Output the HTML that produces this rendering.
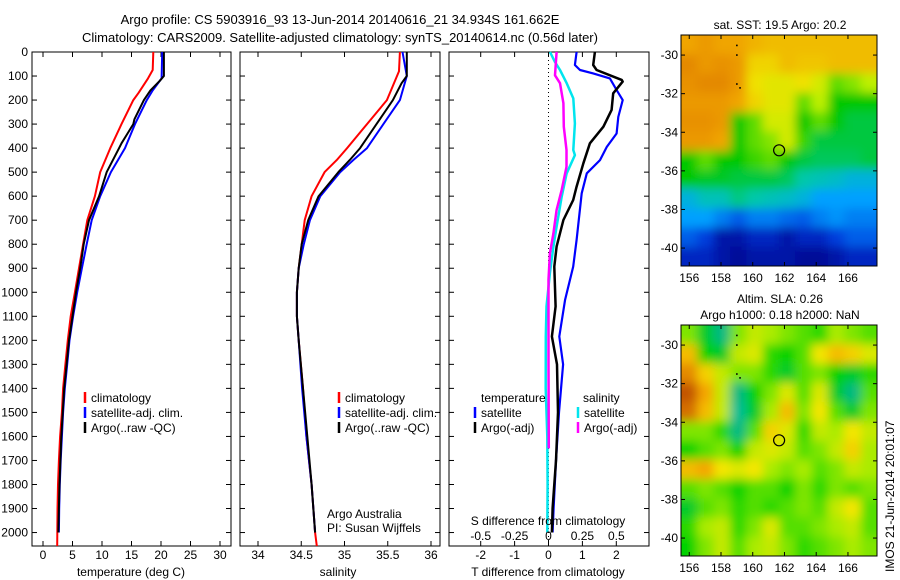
<!DOCTYPE html>
<html><head><meta charset="utf-8">
<style>
html,body{margin:0;padding:0;background:#fff;}
svg{display:block;font-family:"Liberation Sans",Arial,sans-serif;}
text{fill:#000;}
</style></head>
<body>
<svg id="fig" width="900" height="580" viewBox="0 0 900 580" xmlns="http://www.w3.org/2000/svg">
<defs>
<filter id="blurTop" filterUnits="userSpaceOnUse" x="660" y="15" width="240" height="271"><feGaussianBlur stdDeviation="5"/></filter>
<filter id="blurBot" filterUnits="userSpaceOnUse" x="660" y="305" width="240" height="271"><feGaussianBlur stdDeviation="5"/></filter>
<clipPath id="clipTop"><rect x="681" y="35" width="196" height="231"/></clipPath>
<clipPath id="clipBot"><rect x="681" y="325" width="196" height="231"/></clipPath>
</defs>
<text x="340" y="24" text-anchor="middle" font-size="13">Argo profile: CS 5903916_93 13-Jun-2014 20140616_21 34.934S 161.662E</text>
<text x="340" y="42" text-anchor="middle" font-size="13">Climatology: CARS2009. Satellite-adjusted climatology: synTS_20140614.nc (0.56d later)</text>
<g id="layer"></g>
</svg>
<script>
// ---------- data ----------
const depthTicks=[0,100,200,300,400,500,600,700,800,900,1000,1100,1200,1300,1400,1500,1600,1700,1800,1900,2000];
const tempTicks=[0,5,10,15,20,25,30];
const salTicks=[34,34.5,35,35.5,36];
const tdiffTicks=[-2,-1,0,1,2];
const sdiffTicks=[-0.5,-0.25,0,0.25,0.5];
const sdiffTickLabels=["-0.5","-0.25","0","0.25","0.5"];
const lonTicks=[156,158,160,162,164,166];
const latTicks=[-30,-32,-34,-36,-38,-40];

const tempClimDepth=[0,75,110,170,200,250,300,400,500,600,700,800,900,1000,1100,1200,1300,1400,1500,1600,1700,1800,1900,2056];
const tempClim=[18.7,18.6,17.8,16.2,15.3,14.3,13.3,11.4,9.7,8.8,7.5,6.8,6.1,5.4,4.7,4.2,3.8,3.4,3.2,2.9,2.7,2.55,2.45,2.4];
const tempSatDepth=[0,110,160,200,300,400,500,600,700,800,900,1000,1100,1200,1300,1400,1500,1600,1700,1800,1900,2000];
const tempSat=[20.2,20.1,18.6,17.6,15.6,13.9,11.5,9.7,8.25,7.4,6.6,5.8,5.1,4.5,4.1,3.7,3.4,3.2,3.0,2.85,2.75,2.7];
const tempArgoDepth=[0,100,120,160,200,280,300,380,400,500,600,700,800,900,1000,1100,1200,1400,1600,1800,2000];
const tempArgo=[20.5,20.5,19.8,18.2,17.1,15.5,15.3,13.3,12.9,10.8,9.5,7.8,6.9,6.3,5.6,5.0,4.4,3.6,3.1,2.8,2.6];

const salClimDepth=[0,80,200,300,400,450,500,600,700,800,900,1000,1100,1200,1400,1600,1800,2000,2056];
const salClim=[35.64,35.63,35.49,35.26,35.03,34.91,34.77,34.62,34.54,34.505,34.47,34.45,34.45,34.47,34.52,34.56,34.62,34.66,34.68];
const salSatDepth=[0,100,200,300,400,450,500,600,700,800,900,1000,1100,1200,1400,1600,1800,2000];
const salSat=[35.67,35.72,35.64,35.45,35.26,35.10,34.95,34.72,34.60,34.53,34.47,34.45,34.45,34.47,34.51,34.56,34.62,34.66];
const salArgoDepth=[0,100,130,200,300,400,450,500,600,700,800,900,1000,1100,1200,1400,1600,1800,2000];
const salArgo=[35.72,35.72,35.66,35.56,35.37,35.18,35.06,34.93,34.70,34.58,34.505,34.47,34.45,34.45,34.47,34.52,34.57,34.62,34.66];

const tdSatDepth=[0,54,75,89,110,158,200,270,339,395,450,505,588,782,893,1031,1184,1300,1500,1700,1900,2000];
const tdSat=[0.83,0.78,0.93,1.32,1.81,2.01,2.19,2.06,2.01,1.72,1.52,1.13,0.98,0.83,0.73,0.49,0.32,0.43,0.31,0.22,0.15,0.12];
const tdArgoDepth=[0,54,75,116,123,172,241,311,380,463,560,616,699,810,893,1059,1184,1300,1500,1700,1900,2000];
const tdArgo=[1.37,1.32,1.42,2.16,2.19,1.91,1.86,1.62,1.22,1.03,0.83,0.73,0.44,0.24,0.17,0.21,0.10,0.25,0.28,0.22,0.12,0.10];
const sdSatDepth=[0,42,75,130,193,297,408,429,505,602,727,810,920,1059,1184,1400,1600,1800,2000];
const sdSat=[0.011,0.048,0.085,0.134,0.183,0.195,0.183,0.195,0.134,0.097,0.06,0.036,0.01,-0.015,-0.02,-0.021,-0.009,-0.007,-0.009];
const sdArgoDepth=[0,97,130,213,311,408,478,574,657,755,838,948,1300,1650];
const sdArgo=[0.06,0.048,0.085,0.11,0.113,0.133,0.133,0.097,0.06,0.036,0.01,0,0,0.002];

const sstGrid=[
[.85,.88,.85,.85,.82,.8,.8,.8,.8,.8,.8,.8],
[.92,.88,.9,.88,.75,.75,.8,.78,.78,.8,.8,.8],
[.9,.92,.92,.88,.72,.7,.7,.72,.68,.6,.62,.65],
[.88,.88,.88,.85,.75,.7,.7,.6,.65,.55,.55,.55],
[.9,.9,.88,.55,.6,.68,.68,.55,.6,.55,.5,.5],
[.88,.88,.85,.55,.6,.62,.68,.58,.5,.5,.5,.5],
[.55,.6,.55,.55,.58,.6,.55,.5,.48,.48,.48,.5],
[.55,.52,.52,.5,.5,.5,.48,.42,.4,.38,.35,.35],
[.35,.4,.4,.45,.42,.4,.38,.35,.3,.3,.3,.3],
[.3,.3,.25,.2,.25,.25,.22,.2,.25,.28,.25,.25],
[.2,.15,.05,.05,.1,.1,.05,.1,.1,.15,.2,.2],
[.1,.1,.05,.02,.05,.05,.05,.02,.02,.05,.1,.1]];
const slaGrid=[
[.5,.3,.2,.5,.6,.55,.5,.45,.4,.55,.5,.45],
[.8,.35,.3,.6,.65,.4,.35,.45,.7,.8,.75,.65],
[.9,.75,.6,.5,.5,.4,.3,.45,.5,.35,.3,.4],
[1,.85,.6,.2,.35,.5,.65,.45,.65,.3,.2,.45],
[.95,.8,.6,.15,.3,.55,.8,.5,.7,.45,.3,.5],
[.5,.5,.4,.2,.45,.75,.65,.4,.6,.55,.7,.6],
[.35,.45,.5,.35,.6,.65,.6,.45,.5,.6,.75,.55],
[.8,.85,.7,.65,.7,.55,.5,.55,.45,.5,.6,.55],
[.45,.5,.45,.35,.45,.45,.35,.5,.4,.5,.45,.5],
[.3,.45,.5,.4,.45,.4,.45,.5,.45,.6,.7,.45],
[.4,.55,.6,.4,.5,.65,.45,.45,.5,.55,.6,.45],
[.35,.5,.6,.45,.55,.6,.5,.4,.45,.5,.55,.5]];
const argoLon=161.662, argoLat=-34.934;

// ---------- helpers ----------
const NS="http://www.w3.org/2000/svg";
const layer=document.getElementById('layer');
function mk(tag,attrs,parent){const e=document.createElementNS(NS,tag);for(const k in attrs)e.setAttribute(k,attrs[k]);(parent||layer).appendChild(e);return e;}
function txt(x,y,s,size,anchor,parent){const e=mk('text',{x:x,y:y,'font-size':size||12,'text-anchor':anchor||'start'},parent);e.textContent=s;return e;}

const Y0=52, Y1=546, DMAX=2056;
const yD=d=>Y0+d*(Y1-Y0)/DMAX;

function panel(left,right,name){
  const r=mk('rect',{x:left,y:Y0,width:right-left,height:Y1-Y0,fill:'none',stroke:'#000','stroke-width':1});
  
  
  depthTicks.forEach(d=>{
    const y=yD(d);
    mk('line',{x1:left,x2:left+5,y1:y,y2:y,stroke:'#000'});
    mk('line',{x1:right-5,x2:right,y1:y,y2:y,stroke:'#000'});
  });
}
function xTicks(ticks,xf,left,right,labels,labelY,name){
  ticks.forEach((t,i)=>{
    const x=xf(t);
    mk('line',{x1:x,x2:x,y1:Y0,y2:Y0+5,stroke:'#000'});
    mk('line',{x1:x,x2:x,y1:Y1-5,y2:Y1,stroke:'#000'});
    if(labels){const e=txt(x,labelY,labels[i],12,'middle');
      
      }
  });
}
function curve(depths,vals,xf,color,w,name){
  const pts=depths.map((d,i)=>xf(vals[i]).toFixed(1)+','+yD(d).toFixed(1)).join(' ');
  const p=mk('polyline',{points:pts,fill:'none',stroke:color,'stroke-width':w,'stroke-linejoin':'round'});
  
  
}
function legendEntry(x,y,color,label,name){
  const g=mk('g',{});
  
  
  mk('line',{x1:x,x2:x,y1:y-10,y2:y+1,stroke:color,'stroke-width':2.5},g);
  txt(x+6,y,label,12,'start',g);
}

// depth labels
depthTicks.forEach(d=>{const e=txt(28,yD(d)+4,String(d),12,'end');
  
  });

// ---------- panel 1 temperature ----------
const xT=t=>43+t*5.9;
panel(32,231,'temperature-panel');
xTicks(tempTicks,xT,32,231,tempTicks.map(String),559,'temperature');
curve(tempClimDepth,tempClim,xT,'#ff0000',2,'temperature-climatology-line');
curve(tempSatDepth,tempSat,xT,'#0000ff',2,'temperature-satellite-line');
curve(tempArgoDepth,tempArgo,xT,'#000000',2,'temperature-argo-line');
legendEntry(85,402,'#ff0000','climatology','legend-climatology');
legendEntry(85,417,'#0000ff','satellite-adj. clim.','legend-satellite-adj');
legendEntry(85,432,'#000','Argo(..raw -QC)','legend-argo');
{const e=txt(131,576,'temperature (deg C)',12,'middle');}

// ---------- panel 2 salinity ----------
const xS=s=>258+(s-34)*86.5;
panel(240,440,'salinity-panel');
xTicks(salTicks,xS,240,440,salTicks.map(String),559,'salinity');
curve(salClimDepth,salClim,xS,'#ff0000',2,'salinity-climatology-line');
curve(salSatDepth,salSat,xS,'#0000ff',2,'salinity-satellite-line');
curve(salArgoDepth,salArgo,xS,'#000000',2,'salinity-argo-line');
legendEntry(339,402,'#ff0000','climatology','legend-climatology-sal');
legendEntry(339,417,'#0000ff','satellite-adj. clim.','legend-satellite-adj-sal');
legendEntry(339,432,'#000','Argo(..raw -QC)','legend-argo-sal');
{const e=txt(327,518,'Argo Australia',12);}
{const e=txt(327,532,'PI: Susan Wijffels',12);}
{const e=txt(338,576,'salinity',12,'middle');}

// ---------- panel 3 differences ----------
const xTD=t=>548.5+t*33.9;
const xSD=s=>548.5+s*135.6;
panel(449,649,'difference-panel');
xTicks(tdiffTicks,xTD,449,649,tdiffTicks.map(String),559,'t-difference');
mk('line',{x1:xTD(0),x2:xTD(0),y1:Y0,y2:Y1,stroke:'#000','stroke-dasharray':'1,3'});
curve(tdSatDepth,tdSat,xTD,'#0000ff',2.2,'t-difference-satellite-line');
curve(tdArgoDepth,tdArgo,xTD,'#000000',2.5,'t-difference-argo-line');
curve(sdSatDepth,sdSat,xSD,'#00e5ee',2.5,'s-difference-satellite-line');
curve(sdArgoDepth,sdArgo,xSD,'#ff00ff',2.5,'s-difference-argo-line');
{const e=txt(481,402,'temperature',12);}
legendEntry(475,417,'#0000ff','satellite','legend-t-satellite');
legendEntry(475,432,'#000','Argo(-adj)','legend-t-argo');
{const e=txt(583,402,'salinity',12);}
legendEntry(578,417,'#00e5ee','satellite','legend-s-satellite');
legendEntry(578,432,'#ff00ff','Argo(-adj)','legend-s-argo');
{const e=txt(548,525,'S difference from climatology',12,'middle');}
sdiffTicks.forEach((s,i)=>{const e=txt(xSD(s),540,sdiffTickLabels[i],12,'middle');
  
  });
{const e=txt(548,576,'T difference from climatology',12,'middle');}

// ---------- maps ----------
const LON0=155.48, LON1=167.83, LAT0=-28.96, LAT1=-40.93, MX0=681, MX1=877;
function sstColor(v){
  const stops=[[0,[0,0,140]],[.15,[0,60,220]],[.3,[0,160,255]],[.42,[0,200,170]],[.55,[0,200,0]],[.65,[190,240,0]],[.72,[240,225,0]],[.85,[240,165,0]],[1,[215,105,0]]];
  return interp(stops,v);}
function slaColor(v){
  const stops=[[0,[0,200,200]],[.2,[0,185,130]],[.35,[0,210,0]],[.55,[170,235,0]],[.7,[245,230,0]],[.85,[245,165,0]],[1,[195,85,0]]];
  return interp(stops,v);}
function interp(stops,v){
  for(let i=1;i<stops.length;i++){if(v<=stops[i][0]){const a=stops[i-1],b=stops[i];const f=(v-a[0])/(b[0]-a[0]);
    const c=a[1].map((x,k)=>Math.round(x+(b[1][k]-x)*f));return 'rgb('+c.join(',')+')';}}
  const c=stops[stops.length-1][1];return 'rgb('+c.join(',')+')';}
function drawMap(grid,colorF,top,bottom,clip,filt,name,titleLines){
  const xL=lon=>MX0+(lon-LON0)*(MX1-MX0)/(LON1-LON0);
  const yL=lat=>top+(lat-LAT0)*(bottom-top)/(LAT1-LAT0);
  const g=mk('g',{'clip-path':'url(#'+clip+')'});
  
  
  const inner=mk('g',{filter:'url(#'+filt+')'},g);
  const nr=grid.length, nc=grid[0].length;
  const cw=(MX1-MX0)/nc, ch=(bottom-top)/nr;
  const pad=14;
  grid.forEach((row,r)=>row.forEach((v,c)=>{
    const x0=MX0+c*cw-(c===0?pad:0), y0=top+r*ch-(r===0?pad:0);
    const w=cw+0.6+(c===0?pad:0)+(c===nc-1?pad:0), h=ch+0.6+(r===0?pad:0)+(r===nr-1?pad:0);
    const cell=mk('rect',{x:x0,y:y0,width:w,height:h,fill:colorF(v)},inner);
    
    
  }));
  [[159,-29.5],[159,-30],[159,-31.5],[159.2,-31.7]].forEach(p=>mk('rect',{x:xL(p[0])-0.8,y:yL(p[1])-0.8,width:1.6,height:1.6,fill:'#000'},g));
  const m=mk('circle',{cx:xL(argoLon),cy:yL(argoLat),r:5.5,fill:'none',stroke:'#000','stroke-width':1.2});
  
  
  const fr=mk('rect',{x:MX0,y:top,width:MX1-MX0,height:bottom-top,fill:'none',stroke:'#000'});
  
  
  lonTicks.forEach(l=>{const x=xL(l);
    mk('line',{x1:x,x2:x,y1:top,y2:top+4,stroke:'#000'});mk('line',{x1:x,x2:x,y1:bottom-4,y2:bottom,stroke:'#000'});
    const e=txt(x,bottom+16,String(l),12,'middle');});
  latTicks.forEach(l=>{const y=yL(l);
    mk('line',{x1:MX0,x2:MX0+4,y1:y,y2:y,stroke:'#000'});mk('line',{x1:MX1-4,x2:MX1,y1:y,y2:y,stroke:'#000'});
    const e=txt(MX0-3,y+4,String(l),12,'end');});
  titleLines.forEach((t,i)=>{const e=txt(780,top-(titleLines.length-i)*16+10,t,12,'middle');
    });
}
drawMap(sstGrid,sstColor,35,266,'clipTop','blurTop','sst-map',['sat. SST: 19.5 Argo: 20.2']);
drawMap(slaGrid,slaColor,325,556,'clipBot','blurBot','sla-map',['Altim. SLA: 0.26','Argo h1000: 0.18 h2000: NaN']);
{const e=txt(0,0,'IMOS 21-Jun-2014 20:01:07',12,'start');
 e.setAttribute('transform','translate(894,572) rotate(-90)');
 }
</script>
</body></html>
